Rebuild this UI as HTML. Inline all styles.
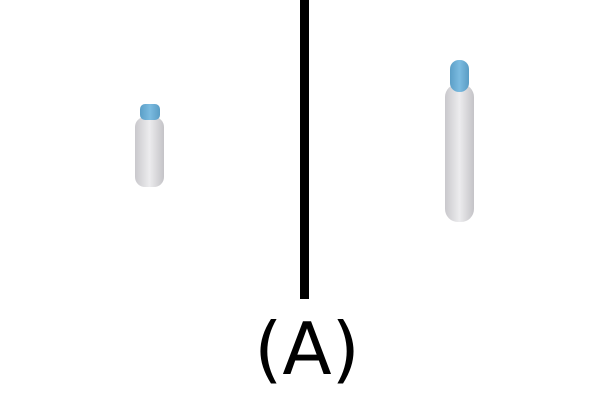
<!DOCTYPE html>
<html><head><meta charset="utf-8"><style>
html,body{margin:0;padding:0;background:#fff;width:610px;height:400px;overflow:hidden}
svg{display:block}
</style></head><body>
<svg width="610" height="400" viewBox="0 0 610 400">
<defs>
<linearGradient id="bg" x1="0" x2="1" y1="0" y2="0">
<stop offset="0" stop-color="#c9c8cc"/><stop offset="0.5" stop-color="#ececee"/><stop offset="1" stop-color="#c4c3c7"/>
</linearGradient>
<linearGradient id="cg" x1="0" x2="1" y1="0" y2="0">
<stop offset="0" stop-color="#5b9fc7"/><stop offset="0.5" stop-color="#7bbbe0"/><stop offset="1" stop-color="#5a9cc4"/>
</linearGradient>
</defs>
<g>
<rect x="135" y="117" width="29" height="70" rx="10" fill="url(#bg)"/>
<rect x="140" y="104" width="20" height="16" rx="5" fill="url(#cg)"/>
</g>
<rect x="300" y="0" width="9" height="299" fill="#000"/>
<g>
<rect x="445" y="84" width="29" height="138" rx="13" fill="url(#bg)"/>
<rect x="450" y="60" width="19" height="32" rx="9" fill="url(#cg)"/>
</g>
<text x="307" y="374" text-anchor="middle" font-family="DejaVu Sans, sans-serif" font-size="72" fill="#000">(A)</text>
</svg>
</body></html>
